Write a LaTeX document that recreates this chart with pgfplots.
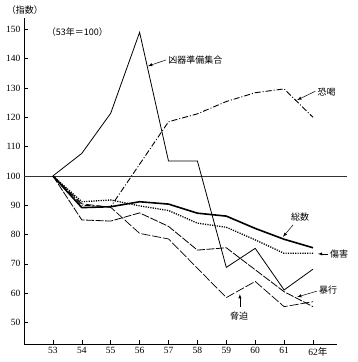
\documentclass[border=0pt]{standalone}
\usepackage{fontspec}
\setmainfont{Liberation Serif}
\newfontfamily\jp{Noto Sans CJK JP}
\usepackage{pgfplots}
\pgfplotsset{compat=1.18}
\begin{document}
\begin{tikzpicture}
\begin{axis}[
 scale only axis, width=313pt, height=326pt,
 at={(0pt,0pt)}, anchor=south west,
 xmin=52, xmax=62.83, ymin=42.66, ymax=153.9,
 axis lines=left, axis line style={-, line width=0.8pt},
 tick align=inside, major tick length=4pt, tick style={black, line width=0.6pt},
 xtick={53,...,62}, xticklabels={53,54,55,56,57,58,59,60,61,62\rlap{\jp 年}},
 ytick={50,60,...,150},
 tick label style={font=\fontsize{9.5}{11}\selectfont},
 /pgf/number format/assume math mode=true,
 clip=false,
]
\draw[line width=0.6pt, black!80] (axis cs:52,100) -- (axis cs:63.18,100);
% 凶器準備集合
\addplot[black, line width=0.8pt] coordinates {(53,100)(54,107.7)(55,121.4)(56,149)(57,105.1)(58,105.1)(59,68.8)(60,75.3)(61,61.1)(62,68.2)};
% 総数
\addplot[black, line width=1.6pt] coordinates {(53,100)(54,89.2)(55,89.5)(56,91.2)(57,90.4)(58,87.3)(59,86.3)(60,82.1)(61,78.4)(62,75.5)};
% 傷害
\addplot[black, line width=1.3pt, dash pattern=on 1.2pt off 1.2pt] coordinates {(53,100)(54,91.2)(55,91.8)(56,89.8)(57,88.2)(58,83.9)(59,82.5)(60,78.2)(61,73.6)(62,73.6)};
% 恐喝
\addplot[black, line width=0.9pt, dash pattern=on 6pt off 2pt on 1pt off 2pt] coordinates {(53,100)(54,90)(55,89.5)(56,104)(57,118.5)(58,121.2)(59,125.4)(60,128.4)(61,129.7)(62,120)};
% 暴行
\addplot[black, line width=0.8pt, dash pattern=on 8pt off 1.5pt] coordinates {(53,100)(54,85)(55,84.6)(56,87.4)(57,82.8)(58,74.7)(59,75.5)(60,68)(61,60.5)(62,55.4)};
% 脅迫
\addplot[black, line width=0.7pt, dash pattern=on 9pt off 2pt] coordinates {(53,100)(54,90.5)(55,89.3)(56,80.4)(57,78.5)(58,68.5)(59,58.5)(60,64)(61,55.4)(62,57.1)};
% labels
\node[font=\jp\fontsize{9}{10}\selectfont] at (axis cs:52.03,156.7) {（指数）};
\node[font=\jp\fontsize{9}{10}\selectfont] at (axis cs:53.85,149.1) {（53年＝100）};
\node[anchor=west, inner sep=1pt, font=\jp\fontsize{9}{10}\selectfont] at (axis cs:56.95,139.6) {凶器準備集合};
\draw[-latex, line width=0.5pt] (axis cs:56.92,139.6) -- (axis cs:56.29,137.5);
\node[anchor=west, inner sep=1pt, font=\jp\fontsize{9}{10}\selectfont] at (axis cs:62.12,128.7) {恐喝};
\draw[-latex, line width=0.5pt] (axis cs:62.08,128.9) -- (axis cs:61.45,125.9);
\node[font=\jp\fontsize{9}{10}\selectfont] at (axis cs:61.55,86.0) {総数};
\draw[-latex, line width=0.5pt] (axis cs:61.31,83.3) -- (axis cs:60.96,79.2);
\node[anchor=west, inner sep=1pt, font=\jp\fontsize{9}{10}\selectfont] at (axis cs:62.55,73.4) {傷害};
\draw[-latex, line width=0.5pt] (axis cs:62.52,73.4) -- (axis cs:62.17,73.4);
\node[anchor=west, inner sep=1pt, font=\jp\fontsize{9}{10}\selectfont] at (axis cs:62.17,61.1) {暴行};
\draw[-latex, line width=0.5pt] (axis cs:62.14,60.7) -- (axis cs:61.45,58.7);
\node[font=\jp\fontsize{9}{10}\selectfont] at (axis cs:59.44,52.2) {脅迫};
\draw[-latex, line width=0.5pt] (axis cs:59.47,55.3) -- (axis cs:59.47,59.7);
\end{axis}
\path (-24pt,-18pt) rectangle (334pt,344pt);
\end{tikzpicture}
\end{document}
